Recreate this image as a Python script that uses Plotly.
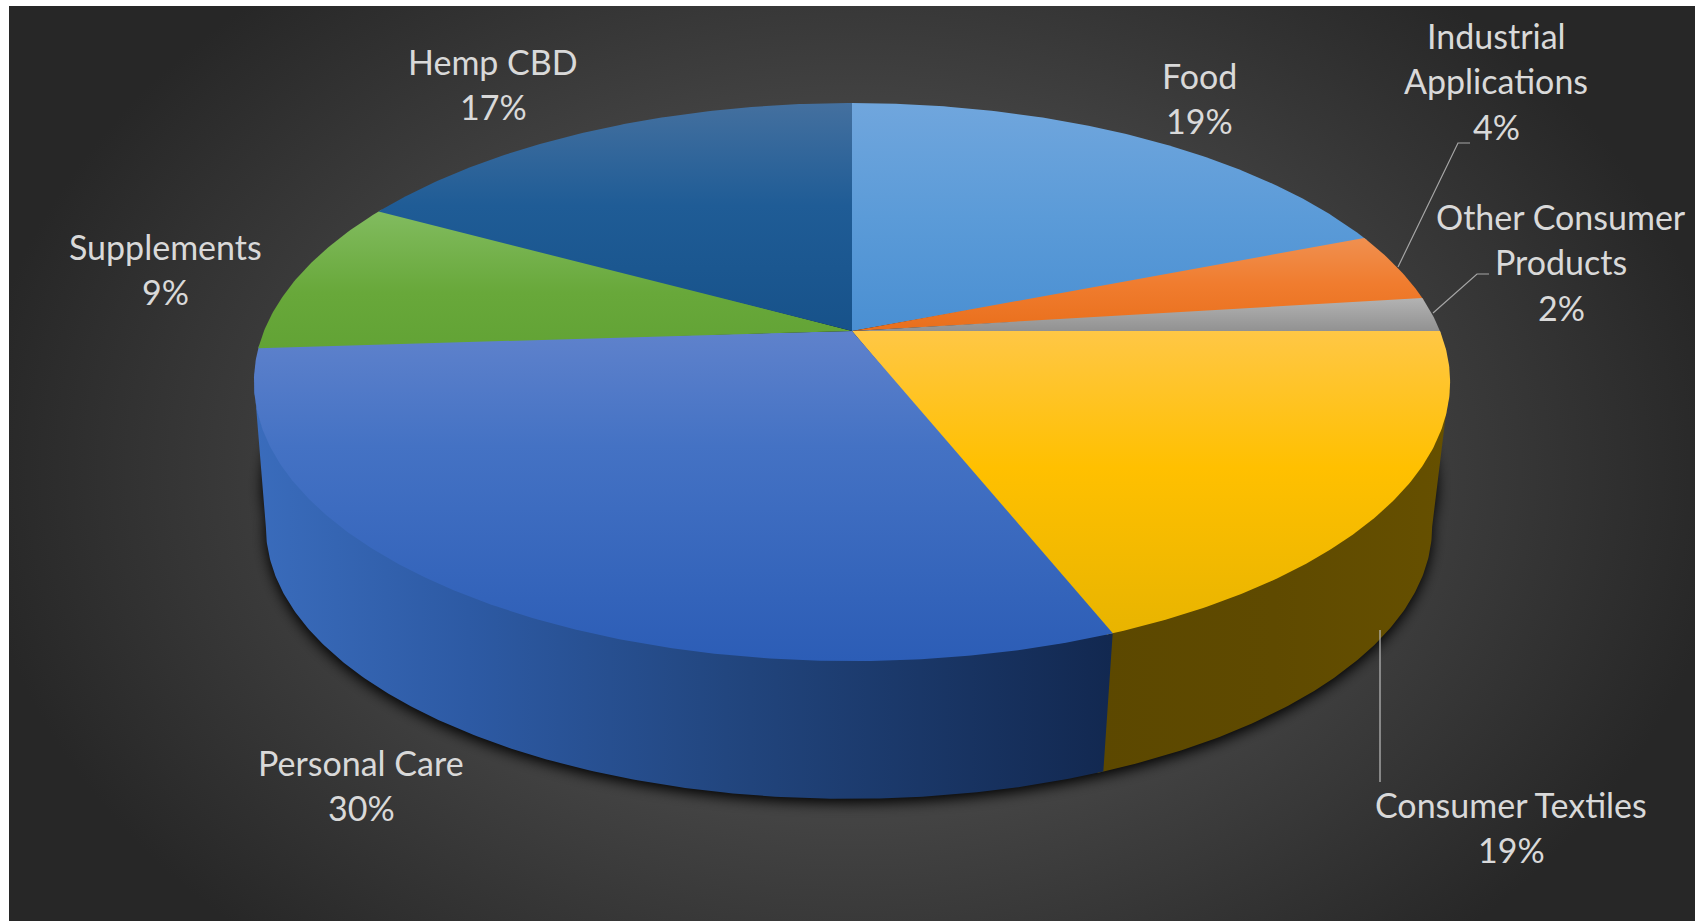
import base64
import numpy as np
import plotly.graph_objects as go

# ---- data, clockwise from 12 o'clock ----
categories = ["Food", "Industrial Applications", "Other Consumer Products",
              "Consumer Textiles", "Personal Care", "Supplements", "Hemp CBD"]
label_lines = [["Food"], ["Industrial", "Applications"], ["Other Consumer", "Products"],
               ["Consumer Textiles"], ["Personal Care"], ["Supplements"], ["Hemp CBD"]]
values = [19, 4, 2, 19, 30, 9, 17]

# ---- styles ----
top_scales = [
    [[0, "#70a6dd"], [0.5, "#5b9bd8"], [1, "#4a8fd2"]],
    [[0, "#f09050"], [0.5, "#f07c2e"], [1, "#e96f1c"]],
    [[0, "#b3b3b3"], [1, "#8f8f8f"]],
    [[0, "#ffc745"], [0.45, "#ffc000"], [1, "#e8b400"]],
    [[0, "#5f82cc"], [0.35, "#4472c4"], [1, "#2c5db6"]],
    [[0, "#82bc60"], [0.6, "#68a83a"], [1, "#62a335"]],
    [[0, "#44709f"], [0.45, "#1f5c96"], [1, "#17528a"]],
]
side_scales = {
    3: [[0, "#5c4800"], [0.5, "#5f4a00"], [1, "#665000"]],
    4: [[0, "#3a6cbc"], [0.25, "#2d5aa4"], [0.55, "#22467f"], [1, "#122850"]],
}
cx, cy, R, b, k = 852, 331, 588, 269.7, 0.183
cx2, cy2, s = 849, 477, 0.975
ROOM = (1700, 921)
PANEL = (9, 6, 1695, 921)
label_font = dict(family="Lato", size=34, color="#d9d9d9")
line_gap = 45.5
label_centres = [(1199, 75), (1496, 35), (1561, 216), (1511, 804), (361, 762), (165, 246), (493, 61)]
leaders = [[(1398, 267), (1458, 143), (1470, 143)],
           [(1433, 313), (1477, 274), (1489, 274)],
           [(1380, 630), (1380, 782)]]
leader_colours = ["#a6a6a6", "#a6a6a6", "#bfbfbf"]
overlap = 0.0015
widest = np.arcsin(k) / (2 * np.pi)  # where the rims are widest, as a fraction of a turn


def rim(f0, f1, lower=False):
    f = np.linspace(f0, f1, max(6, int(abs(f1 - f0) * 720)))
    X, Y = np.sin(2 * np.pi * f), np.cos(2 * np.pi * f)
    w = 1 + k * Y
    if lower:
        return cx2 + s * R * X / w, cy2 - s * b * Y / w
    return cx + R * X / w, cy - b * Y / w


def points(xs, ys):
    return " ".join(f"{a:.1f},{c:.1f}" for a, c in zip(xs, ys))


# ---- panel and soft shadow ----
lx_all, ly_all = rim(0, 1, True)
ux_all, uy_all = rim(0, 1)
mid = 0.72
shadow_low = points(lx_all, ly_all + 4)
shadow_mid = points(ux_all + (lx_all - ux_all) * mid, uy_all + (ly_all - uy_all) * mid)
svg = f"""<svg xmlns='http://www.w3.org/2000/svg' width='{ROOM[0]}' height='{ROOM[1]}'>
<defs><radialGradient id='g' gradientUnits='userSpaceOnUse' cx='852' cy='470' r='1'
 gradientTransform='translate(852 470) scale(880 640) translate(-852 -470)'>
<stop offset='0' stop-color='#505050'/><stop offset='0.55' stop-color='#434343'/>
<stop offset='1' stop-color='#272727'/></radialGradient>
<filter id='b' x='-10%' y='-10%' width='120%' height='120%'><feGaussianBlur stdDeviation='7'/></filter></defs>
<rect x='{PANEL[0]}' y='{PANEL[1]}' width='{PANEL[2]-PANEL[0]}' height='{PANEL[3]-PANEL[1]}' fill='url(#g)'/>
<g filter='url(#b)'><polygon points='{shadow_low}' fill='#000'/><polygon points='{shadow_mid}' fill='#000'/></g></svg>"""
uri = "data:image/svg+xml;base64," + base64.b64encode(svg.encode()).decode()

fig = go.Figure()
edges = np.cumsum([0] + values) / sum(values)

# ---- side walls: only the part of each slice between the rims' widest points ----
for i, scale in side_scales.items():
    f0 = max(edges[i], 0.25 + widest)
    f1 = min(edges[i + 1] + (overlap if i == 3 else 0), 0.75 - widest)
    ux, uy = rim(f0, f1)
    lx, ly = rim(f0, f1, True)
    xs = np.r_[ux, lx[::-1], ux[0]]
    ys = np.r_[uy - 2, ly[::-1], uy[0] - 2]
    fig.add_trace(go.Scatter(x=xs, y=ys, mode="lines", fill="toself", line=dict(width=0),
                             fillgradient=dict(type="horizontal", colorscale=scale,
                                               start=float(xs.min()), stop=float(xs.max())),
                             name=categories[i], hoverinfo="name"))

# ---- top faces; each slips slightly under the next to close the seams ----
for i, scale in enumerate(top_scales):
    f0 = edges[i] - (overlap if i == 0 else 0)
    f1 = edges[i + 1] + (overlap if i < len(values) - 1 else 0)
    ux, uy = rim(f0, f1)
    xs = np.r_[cx, ux, cx]
    ys = np.r_[cy, uy, cy]
    fig.add_trace(go.Scatter(x=xs, y=ys, mode="lines", fill="toself", line=dict(width=0),
                             fillgradient=dict(type="vertical", colorscale=scale,
                                               start=float(ys.min()), stop=float(ys.max())),
                             name=categories[i], hoverinfo="name"))

# ---- leader lines ----
for pts, colour in zip(leaders, leader_colours):
    fig.add_trace(go.Scatter(x=[p[0] for p in pts], y=[p[1] for p in pts], mode="lines",
                             line=dict(color=colour, width=1.2), hoverinfo="skip"))

# ---- labels ----
annotations = []
for lines, v, (lx, ly) in zip(label_lines, values, label_centres):
    for j, t in enumerate(lines + [f"{v}%"]):
        annotations.append(dict(x=lx, y=ly + j * line_gap, text=t, showarrow=False,
                                xanchor="center", yanchor="middle", font=label_font))

fig.update_layout(
    width=ROOM[0], height=ROOM[1], margin=dict(l=0, r=0, t=0, b=0),
    paper_bgcolor="white", plot_bgcolor="rgba(0,0,0,0)", showlegend=False,
    xaxis=dict(range=[0, ROOM[0]], visible=False, fixedrange=True),
    yaxis=dict(range=[ROOM[1], 0], visible=False, fixedrange=True),
    annotations=annotations,
    images=[dict(source=uri, xref="x", yref="y", x=0, y=0, sizex=ROOM[0], sizey=ROOM[1],
                 xanchor="left", yanchor="top", sizing="stretch", layer="below")],
)
fig.write_html("out.html", config=dict(displayModeBar=False),
               post_script="document.body.style.margin='0';document.body.style.overflow='hidden';")
